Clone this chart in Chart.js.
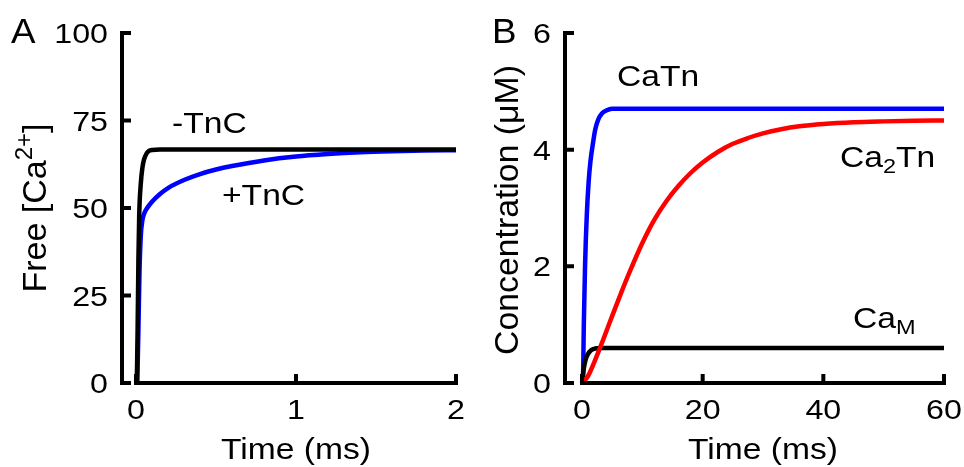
<!DOCTYPE html>
<html><head><meta charset="utf-8">
<script src="https://cdn.jsdelivr.net/npm/chart.js@4/dist/chart.umd.min.js"></script>
<style>
html,body{margin:0;padding:0;background:#fff;}
#wrap{position:relative;width:964px;height:467px;overflow:hidden;}
canvas{position:absolute;top:0;}
#cA{left:0;} #cB{left:482px;}
</style></head><body>
<div id="wrap">
<canvas id="cA" width="482" height="467"></canvas>
<canvas id="cB" width="482" height="467"></canvas>
</div>
<script>
// ---------- Panel A data: free [Ca2+] vs time (ms) ----------
const timeA_minusTnC = [0.005, 0.01, 0.015, 0.02, 0.03, 0.04, 0.05, 0.065, 0.08, 0.1, 0.15, 0.5, 1.0, 1.5, 2.0];
const freeCa_minusTnC = [0, 15, 35, 48, 57, 61.5, 63.8, 65.5, 66.3, 66.6, 66.7, 66.7, 66.7, 66.7, 66.7];
const timeA_plusTnC = [0.008, 0.015, 0.022, 0.03, 0.04, 0.05, 0.07, 0.1, 0.15, 0.2, 0.3, 0.4, 0.5, 0.6, 0.8, 1.0, 1.2, 1.4, 1.6, 1.8, 2.0];
const freeCa_plusTnC = [0, 15, 32, 42, 46.5, 48.3, 50, 51.8, 54, 55.7, 58, 59.7, 61, 62, 63.6, 64.7, 65.4, 65.9, 66.2, 66.4, 66.5];
const ticksA_x = [0, 1, 2];
const ticksA_y = [0, 25, 50, 75, 100];

// ---------- Panel B data: concentration (uM) vs time (ms) ----------
const timeB_CaTn = [0, 0.15, 0.3, 0.5, 0.8, 1.1, 1.4, 1.8, 2.2, 2.7, 3.3, 4, 5, 6, 60];
const conc_CaTn = [0, 0.05, 1.0, 2.0, 2.9, 3.45, 3.8, 4.1, 4.35, 4.52, 4.62, 4.67, 4.7, 4.7, 4.7];
const timeB_Ca2Tn = [0, 1, 2, 3.5, 5, 6.5, 8, 10, 12, 14, 16, 18, 20, 22.5, 25, 27.5, 30, 33, 36, 40, 45, 50, 55, 60];
const conc_Ca2Tn = [0, 0.12, 0.35, 0.74, 1.15, 1.55, 1.93, 2.4, 2.8, 3.12, 3.38, 3.6, 3.78, 3.96, 4.1, 4.2, 4.28, 4.35, 4.4, 4.44, 4.47, 4.485, 4.495, 4.5];
const timeB_CaM = [0, 0.3, 0.6, 1, 1.5, 2, 2.5, 3.5, 60];
const conc_CaM = [0, 0.25, 0.4, 0.5, 0.56, 0.585, 0.595, 0.6, 0.6];
const ticksB_x = [0, 20, 40, 60];
const ticksB_y = [0, 2, 4, 6];

const FONT = '"Liberation Sans", Arial, Helvetica, sans-serif';
const SX = 1.12;

function pts(xs, ys) { return xs.map((x, i) => ({x: x, y: ys[i]})); }

// rich text: parts = [[text, 'n'|'sup'|'sub'], ...]
function drawRich(ctx, x, y, parts, size, align, rotate, stretch) {
  ctx.save();
  ctx.translate(x, y);
  if (rotate) { ctx.rotate(-Math.PI / 2); ctx.scale(1, stretch); }
  else ctx.scale(stretch, 1);
  const fs = p => p[1] === 'n' ? size : Math.round(size * 0.7);
  let w = 0;
  parts.forEach(p => { ctx.font = fs(p) + 'px ' + FONT; w += ctx.measureText(p[0]).width; });
  let cx = align === 'center' ? -w / 2 : (align === 'right' ? -w : 0);
  ctx.fillStyle = '#000';
  ctx.textBaseline = 'alphabetic';
  ctx.textAlign = 'left';
  parts.forEach(p => {
    ctx.font = fs(p) + 'px ' + FONT;
    let dy = p[1] === 'sup' ? -size * 0.42 : (p[1] === 'sub' ? size * 0.2 : 0);
    ctx.fillText(p[0], cx, dy);
    cx += ctx.measureText(p[0]).width;
  });
  ctx.restore();
}

function axesPlugin(cfg) {
  return {
    id: 'customAxes',
    afterDatasetsDraw(chart) {
      const ctx = chart.ctx, xs = chart.scales.x, ys = chart.scales.y;
      const left = chart.chartArea.left;
      const y0 = ys.getPixelForValue(cfg.yt[0]);
      const yTop = ys.getPixelForValue(cfg.yt[cfg.yt.length - 1]);
      const x0 = xs.getPixelForValue(cfg.xt[0]);
      const xEnd = xs.getPixelForValue(cfg.xt[cfg.xt.length - 1]);
      const lw = 4, tl = 9;
      ctx.save();
      ctx.strokeStyle = '#000';
      ctx.lineWidth = lw;
      ctx.lineCap = 'butt';
      ctx.beginPath();
      ctx.moveTo(left, y0 + lw / 2); ctx.lineTo(left, yTop - lw / 2);
      cfg.yt.forEach(v => { const p = ys.getPixelForValue(v); ctx.moveTo(left - lw / 2, p); ctx.lineTo(left + tl, p); });
      ctx.moveTo(x0 - lw / 2, y0); ctx.lineTo(xEnd + lw / 2, y0);
      cfg.xt.forEach(v => { const p = xs.getPixelForValue(v); ctx.moveTo(p, y0 + lw / 2); ctx.lineTo(p, y0 - tl); });
      ctx.stroke();
      // tick labels
      cfg.yt.forEach(v => drawRich(ctx, left - 14, ys.getPixelForValue(v) + 10, [[String(v), 'n']], cfg.fs, 'right', false, 1.15));
      cfg.xt.forEach(v => drawRich(ctx, xs.getPixelForValue(v), 419, [[String(v), 'n']], cfg.fs, 'center', false, 1.15));
      // titles and annotations
      cfg.texts.forEach(t => drawRich(ctx, t.x, t.y, t.parts, t.size || 30, t.align || 'left', t.rot, t.st || SX));
      ctx.restore();
    }
  };
}

function makeChart(id, datasets, xr, yr, pad, axW, cfg) {
  return new Chart(document.getElementById(id), {
    type: 'scatter',
    data: { datasets: datasets },
    options: {
      responsive: false, animation: false, devicePixelRatio: 1,
      layout: { padding: pad },
      plugins: { legend: { display: false }, tooltip: { enabled: false } },
      elements: { point: { radius: 0 } },
      scales: {
        x: { type: 'linear', min: xr[0], max: xr[1], grid: { display: false }, border: { display: false },
             ticks: { display: false }, afterFit: s => { s.height = 84; },
             afterBuildTicks: s => { s.ticks = cfg.xt.map(v => ({value: v})); } },
        y: { type: 'linear', min: yr[0], max: yr[1], grid: { display: false }, border: { display: false },
             ticks: { display: false }, afterFit: s => { s.width = axW; },
             afterBuildTicks: s => { s.ticks = cfg.yt.map(v => ({value: v})); } }
      }
    },
    plugins: [axesPlugin(cfg)]
  });
}

function ds(xs, ys, color) {
  return { data: pts(xs, ys), showLine: true, borderColor: color, borderWidth: 4.5, pointRadius: 0,
           cubicInterpolationMode: 'monotone', clip: 8, fill: false };
}

// Panel A
makeChart('cA',
  [ds(timeA_minusTnC, freeCa_minusTnC, '#000000'), ds(timeA_plusTnC, freeCa_plusTnC, '#0000ff')],
  [-0.0875, 2], [0, 100], { left: 0, right: 26, top: 33, bottom: 0 }, 122,
  { xt: ticksA_x, yt: ticksA_y, fs: 28,
    texts: [
      { x: 11, y: 43, parts: [['A', 'n']], size: 35, st: 1.05 },
      { x: 172, y: 133, parts: [['-TnC', 'n']] },
      { x: 222, y: 205, parts: [['+TnC', 'n']] },
      { x: 46, y: 208, parts: [['Free [Ca', 'n'], ['2+', 'sup'], [']', 'n']], size: 34, align: 'center', rot: true, st: 1.0 },
      { x: 296, y: 459, parts: [['Time (ms)', 'n']], align: 'center' }
    ] });

// Panel B
makeChart('cB',
  [ds(timeB_Ca2Tn, conc_Ca2Tn, '#ff0000'), ds(timeB_CaM, conc_CaM, '#000000'), ds(timeB_CaTn, conc_CaTn, '#0000ff')],
  [-2.82, 60], [0, 6], { left: 0, right: 20, top: 33, bottom: 0 }, 83,
  { xt: ticksB_x, yt: ticksB_y, fs: 28,
    texts: [
      { x: 10, y: 43, parts: [['B', 'n']], size: 35, st: 1.05 },
      { x: 135, y: 86, parts: [['CaTn', 'n']] },
      { x: 358, y: 167, parts: [['Ca', 'n'], ['2', 'sub'], ['Tn', 'n']] },
      { x: 371, y: 328, parts: [['Ca', 'n'], ['M', 'sub']] },
      { x: 36, y: 210, parts: [['Concentration (\u03bcM)', 'n']], size: 33.8, align: 'center', rot: true, st: 1.0 },
      { x: 281, y: 459, parts: [['Time (ms)', 'n']], align: 'center' }
    ] });
</script>
</body></html>
